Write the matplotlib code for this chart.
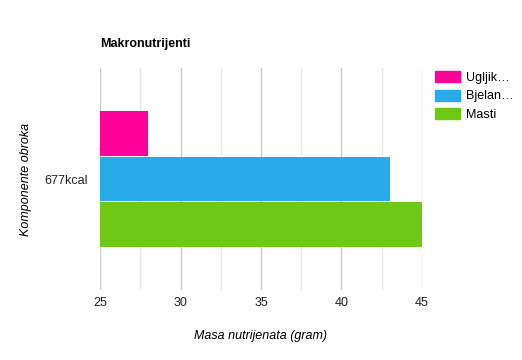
import numpy as np
import matplotlib.pyplot as plt
from matplotlib.patches import Patch

plt.rcParams['font.family'] = ['Liberation Sans', 'DejaVu Sans']

category = ['677kcal']
series = ['Ugljik…', 'Bjelan…', 'Masti']
values = [28, 43, 45]
colors = ['#ff0099', '#29abe9', '#6ec916']

fig = plt.figure(figsize=(5.22, 3.6), dpi=100)
ax = fig.add_axes([100/522, 70/360, 322/522, 222/360])

bar_h = 0.205
offsets = [-bar_h, 0, bar_h]
for v, c, off in zip(values, colors, offsets):
    # bars in the same category, first on top
    ax.barh(0 - off, v - 25, left=25, height=bar_h - 0.004, color=c, zorder=3)

ax.set_xlim(25, 45)
ax.set_ylim(-0.5, 0.5)
ax.set_xticks([25, 30, 35, 40, 45])
ax.set_xticks(np.arange(27.5, 45, 5), minor=True)
ax.set_yticks([0])
ax.set_yticklabels(category)
ax.grid(axis='x', which='major', color='#cccccc', lw=1, zorder=0)
ax.grid(axis='x', which='minor', color='#e8e8e8', lw=1, zorder=0)
ax.tick_params(length=0, which='both', labelsize=9, colors='#222222', pad=5)
ax.tick_params(axis='y', pad=8.5)
for s in ax.spines.values():
    s.set_visible(False)

ax.set_xlabel('Masa nutrijenata (gram)', fontsize=9, style='italic', labelpad=15)
ax.set_ylabel('Komponente obroka', fontsize=9, style='italic', labelpad=9)
fig.text(100/522, 1 - 44/360, 'Makronutrijenti', fontsize=9, fontweight='bold', va='center')

handles = [Patch(color=c) for c in colors]
fig.legend(handles, series, loc='upper left', bbox_to_anchor=(430/522, 1 - 66/360),
           frameon=False, fontsize=9, handlelength=2.0, handleheight=1.0,
           handletextpad=0.5, labelspacing=0.45, borderaxespad=0)

fig.savefig('out.png', dpi=100)
